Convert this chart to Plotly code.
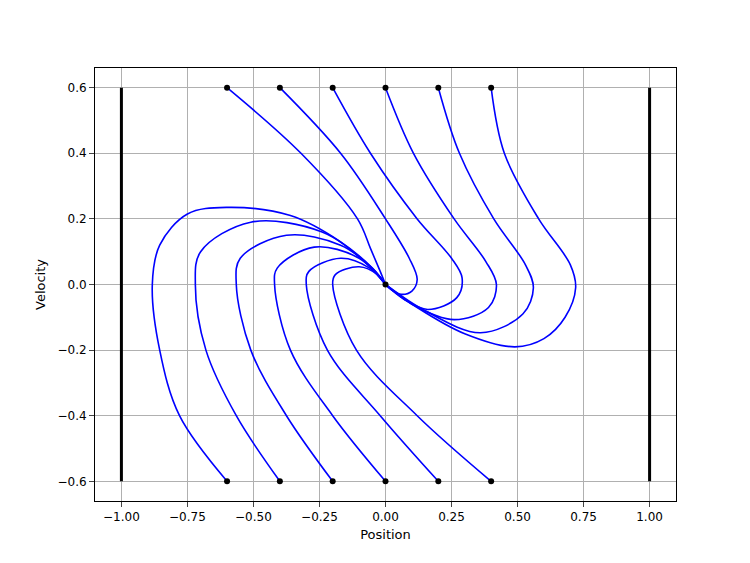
import plotly.graph_objects as go

# start positions of the trajectories
top_x0 = [-0.6, -0.4, -0.2, 0.0, 0.2, 0.4]
bot_x0 = [-0.6, -0.4, -0.2, 0.0, 0.2, 0.4]

# trajectories: (x list, y list)
traj_top = [
    ([-0.6, -0.32, -0.106, -0.057, -0.02, 0.0],
     [0.6, 0.4, 0.2, 0.11, 0.04, 0.0]),
    ([-0.4, -0.17, 0.0, 0.09, 0.12, 0.1, 0.06, 0.02, 0.0],
     [0.6, 0.4, 0.2, 0.08, 0.015, -0.02, -0.03, -0.015, 0.0]),
    ([-0.2, -0.057, 0.12, 0.25, 0.29, 0.27, 0.16, 0.07, 0.0],
     [0.6, 0.4, 0.2, 0.08, 0.02, -0.04, -0.076, -0.045, 0.0]),
    ([0.0, 0.106, 0.26, 0.38, 0.42, 0.39, 0.26, 0.1, 0.0],
     [0.6, 0.4, 0.2, 0.07, 0.0, -0.07, -0.107, -0.06, 0.0]),
    ([0.2, 0.28, 0.41, 0.53, 0.56, 0.52, 0.36, 0.15, 0.0],
     [0.6, 0.4, 0.2, 0.06, -0.01, -0.09, -0.147, -0.08, 0.0]),
    ([0.4, 0.45, 0.58, 0.7, 0.72, 0.68, 0.6, 0.49, 0.3, 0.12, 0.0],
     [0.6, 0.4, 0.2, 0.06, -0.01, -0.1, -0.165, -0.19, -0.15, -0.07, 0.0]),
]

traj_bot = [
    ([-0.6, -0.78, -0.855, -0.883, -0.855, -0.75, -0.6, -0.36, -0.17, -0.05, 0.0],
     [-0.6, -0.4, -0.2, 0.0, 0.12, 0.215, 0.235, 0.21, 0.13, 0.05, 0.0]),
    ([-0.4, -0.565, -0.68, -0.72, -0.7, -0.51, -0.24, -0.08, 0.0],
     [-0.6, -0.4, -0.2, 0.0, 0.1, 0.19, 0.16, 0.07, 0.0]),
    ([-0.2, -0.375, -0.51, -0.565, -0.55, -0.375, -0.17, -0.05, 0.0],
     [-0.6, -0.4, -0.2, 0.0, 0.08, 0.15, 0.12, 0.05, 0.0]),
    ([0.0, -0.2, -0.36, -0.42, -0.41, -0.27, -0.1, 0.0],
     [-0.6, -0.4, -0.2, 0.0, 0.05, 0.114, 0.08, 0.0]),
    ([0.2, -0.02, -0.22, -0.3, -0.29, -0.17, -0.06, 0.0],
     [-0.6, -0.4, -0.2, 0.0, 0.04, 0.08, 0.05, 0.0]),
    ([0.4, 0.12, -0.11, -0.2, -0.19, -0.1, -0.03, 0.0],
     [-0.6, -0.4, -0.2, 0.0, 0.03, 0.054, 0.03, 0.0]),
]

wall_x = [-1.0, 1.0]
wall_y = [-0.6, 0.6]

fig = go.Figure()

for wx in wall_x:
    fig.add_trace(go.Scatter(x=[wx, wx], y=wall_y, mode="lines",
                             line=dict(color="black", width=3), showlegend=False))

for xs, ys in traj_top + traj_bot:
    fig.add_trace(go.Scatter(x=xs, y=ys, mode="lines",
                             line=dict(color="blue", width=1.6, shape="spline", smoothing=1.0),
                             showlegend=False))

fig.add_trace(go.Scatter(x=top_x0 + bot_x0 + [0.0],
                         y=[0.6] * len(top_x0) + [-0.6] * len(bot_x0) + [0.0],
                         mode="markers", marker=dict(color="black", size=6),
                         showlegend=False))

axis_style = dict(showline=True, linecolor="black", mirror=True, ticks="outside",
                  showgrid=True, gridcolor="#b0b0b0", zeroline=False,
                  tickfont=dict(size=12, color="black"))

fig.update_xaxes(range=[-1.1, 1.1], tickvals=[-1, -0.75, -0.5, -0.25, 0, 0.25, 0.5, 0.75, 1],
                 ticktext=["−1.00", "−0.75", "−0.50", "−0.25", "0.00", "0.25", "0.50", "0.75", "1.00"],
                 title=dict(text="Position", font=dict(size=13, color="black"), standoff=6),
                 **axis_style)
fig.update_yaxes(range=[-0.66, 0.66], tickvals=[-0.6, -0.4, -0.2, 0, 0.2, 0.4, 0.6],
                 ticktext=["−0.6", "−0.4", "−0.2", "0.0", "0.2", "0.4", "0.6"],
                 title=dict(text="Velocity", font=dict(size=13, color="black"), standoff=8),
                 **axis_style)

fig.update_layout(width=750, height=563, plot_bgcolor="white", paper_bgcolor="white",
                  margin=dict(l=87, r=82, t=60, b=70),
                  font=dict(family="DejaVu Sans"))

fig.write_html("out.html")
